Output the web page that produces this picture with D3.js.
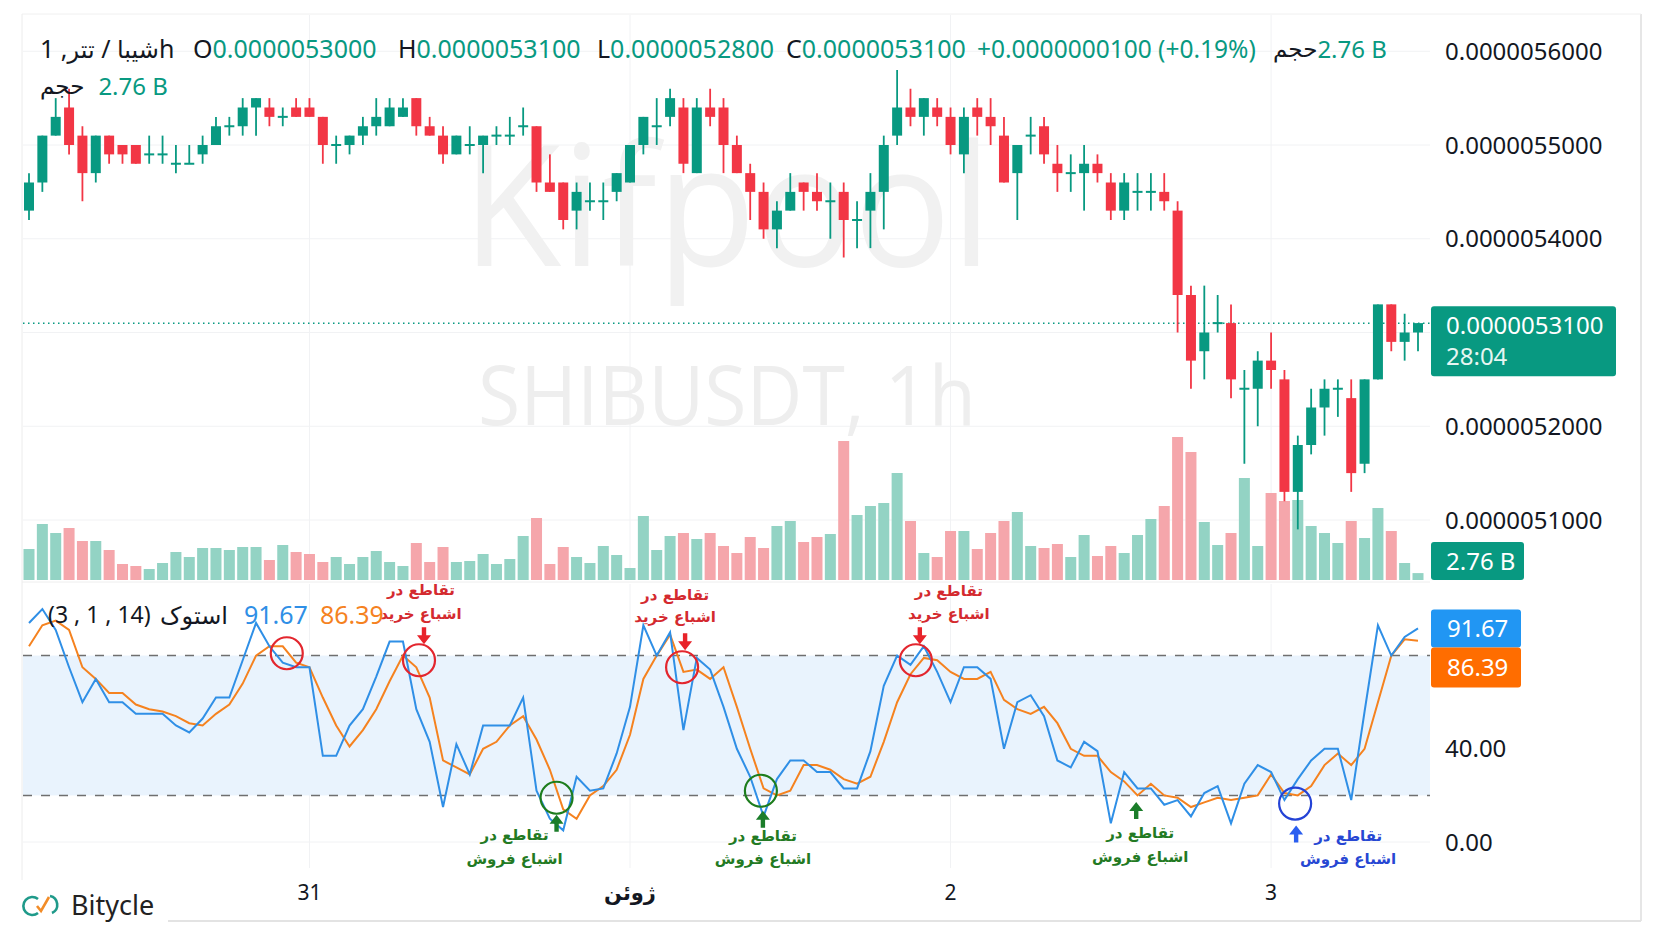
<!DOCTYPE html>
<html>
<head>
<meta charset="utf-8">
<script src="https://cdn.jsdelivr.net/npm/d3@7"></script>
<style>
  body { margin: 0; background: #fff; }
  svg { display: block; }
  text { white-space: pre; }
</style>
</head>
<body>
<svg id="chart" width="1672" height="941"></svg>
<script>
// SHIBUSDT 1h, prices in units of 1e-10 USDT
const opens = [54300,54600,55100,55400,55100,54700,55100,55000,55000,54900,
  54900,54800,54800,54900,55000,55200,55200,55400,55400,55300,
  55400,55400,55300,55000,55000,55100,55200,55200,55300,55500,
  55200,55100,54900,55000,55000,55100,55100,55200,55200,54600,
  54600,54300,54400,54400,54500,54600,55000,55200,55300,55400,
  54700,55400,55400,55000,54700,54500,54100,54300,54600,54500,
  54400,54500,54200,54300,54500,55100,55400,55300,55400,55300,
  54900,55400,55300,55100,54700,55100,55200,54800,54700,54700,
  54800,54600,54300,54500,54500,54500,54300,53400,52800,53100,
  53100,52400,52400,52700,52500,51300,51800,52200,52400,52300,
  51600,52500,53300,52900,53000];
const highs = [54700,55100,55500,55600,55200,55100,55100,55000,55000,55100,
  55100,55000,55000,55100,55300,55300,55500,55500,55500,55400,
  55500,55500,55300,55100,55100,55300,55500,55500,55500,55500,
  55300,55200,55100,55200,55100,55200,55300,55400,55200,54900,
  54600,54600,54600,54600,54700,55000,55300,55500,55600,55500,
  55500,55600,55500,55100,54800,54600,54400,54700,54600,54700,
  54600,54600,54400,54700,55100,55800,55600,55500,55500,55400,
  55400,55500,55500,55300,55000,55300,55300,55000,54900,55000,
  54900,54700,54700,54700,54700,54700,54400,53500,53500,53400,
  53300,52600,52800,53000,52600,51900,52400,52500,52500,52500,
  52500,53300,53300,53200,53100];
const lows = [54200,54500,55100,54900,54400,54600,54800,54800,54800,54800,
  54800,54700,54800,54800,55000,55100,55100,55100,55200,55200,
  55300,55300,54800,54800,54900,55000,55100,55200,55300,55100,
  55100,54800,54900,54900,54700,55000,55000,55100,54500,54500,
  54100,54100,54300,54200,54400,54600,54900,55000,55200,54700,
  54700,55200,54700,54700,54200,54000,53900,54300,54300,54300,
  54000,53800,53900,53900,54100,55000,55200,55100,55200,54900,
  54700,55100,55000,54600,54200,54900,54800,54500,54500,54300,
  54600,54200,54200,54300,54300,54300,53000,52400,52500,53000,
  52300,51600,52000,52400,51200,50900,51700,51900,52100,51300,
  51500,52500,52800,52700,52800];
const closes = [54600,55100,55300,55000,54700,55100,54900,54900,54800,54900,
  54900,54800,54800,55000,55200,55200,55400,55500,55300,55300,
  55300,55300,55000,55000,55100,55200,55300,55400,55400,55200,
  55100,54900,55100,55000,55100,55100,55100,55200,54600,54500,
  54200,54500,54400,54400,54700,55000,55300,55200,55500,54800,
  55400,55300,55000,54700,54500,54100,54300,54500,54500,54400,
  54400,54200,54200,54500,55000,55400,55300,55500,55300,55000,
  55300,55300,55200,54600,55000,55100,54900,54700,54700,54800,
  54700,54300,54600,54500,54500,54400,53400,52700,53000,53100,
  52500,52400,52700,52600,51300,51800,52200,52400,52400,51500,
  52500,53300,52900,53000,53100];
// volume in billions SHIB
const volumes = [12.4,22.4,18.8,20.8,15.6,15.6,12.0,6.4,5.6,4.4,
  6.8,11.2,9.2,12.8,12.8,12.0,13.2,13.2,8.0,14.0,
  11.2,10.4,7.2,9.2,6.4,9.2,11.6,7.2,5.6,14.8,
  7.2,13.2,7.2,7.6,10.4,6.4,8.4,17.6,24.8,6.4,
  13.2,9.2,6.8,13.6,10.0,4.8,25.6,12.0,17.6,18.8,
  16.4,18.8,13.6,10.8,17.2,12.8,21.6,23.6,15.2,17.2,
  18.4,55.6,26.0,29.6,30.8,42.8,23.6,10.8,9.2,19.6,
  19.6,12.4,18.8,23.6,27.2,13.6,12.8,14.4,9.2,18.0,
  9.6,13.6,10.8,18.0,24.4,29.6,57.2,51.2,23.2,14.0,
  18.8,40.8,13.6,34.8,31.6,32.0,21.6,18.8,14.8,23.6,
  16.8,28.8,19.6,6.8,2.76];
// Stochastic (14, 1, 3)
const stochK = [94,100,91,75,60,70,60,60,55,55,
  55,50,47,53,62,62,78,94,84,77,
  75,75,37,37,50,57,71,86,86,57,
  43,15,42,29,50,50,50,62,22,10,
  5,28,22,23,38,58,93,80,90,48,
  79,74,58,40,28,11,27,35,35,30,
  30,23,23,39,67,80,76,84,73,60,
  75,75,70,40,60,63,54,35,32,43,
  39,8,30,23,23,16,18,11,21,24,
  8,25,33,30,18,27,35,40,40,18,
  56,93,80,88,91.67];
const stochD = [84,93,95,91,75,70,64,64,59,57,
  56,54,51,50,55,59,68,80,84,84,
  77,75,62,50,41,48,57,69,80,75,
  62,35,32,29,40,43,50,54,44,31,
  14,10,20,24,31,46,70,80,89,73,
  74,70,75,58,40,23,20,22,33,33,
  31,27,25,28,43,60,72,79,78,73,
  70,70,73,61,57,55,58,51,40,37,
  37,30,26,20,25,20,19,15,17,19,
  18,19,20,29,21,20,24,33,38,33,
  40,60,80,87,86.39];

const priceTicks = [56000, 55000, 54000, 52000, 51000];
const priceGrid = [56000, 55000, 54000, 53000, 52000, 51000];
const stochTicks = [40, 0];
const dayTicks = [
  { i: 21, label: "31" },
  { i: 45, label: "ژوئن", bold: true },
  { i: 69, label: "2" },
  { i: 93, label: "3" }
];
const lastPrice = 53100;
// annotations: anchor (bar index, stoch value) + offsets in px
const notes = [
  { i: 19.3, v: 81, type: "ob", circle: true },
  { i: 29.2, v: 78, type: "ob", circle: true, arrow: [5, -16], text: [2, -71, -47] },
  { i: 48.9, v: 75, type: "ob", circle: true, arrow: [3, -17], text: [-7, -73, -51] },
  { i: 66.4, v: 78, type: "ob", circle: true, arrow: [4, -16], text: [33, -70, -47] },
  { i: 39.5, v: 19, type: "os", circle: true, arrow: [0, 17], text: [-42, 37, 61] },
  { i: 54.8, v: 22, type: "os", circle: true, arrow: [2, 20], text: [2, 45, 68] },
  { i: 82.9, v: 24, type: "os", circle: false, arrow: [0, 16], text: [4, 47, 71] },
  { i: 94.8, v: 16.5, type: "osb", circle: true, arrow: [1, 22], text: [53, 32, 55] }
];

const UP = "#089981", DOWN = "#f23645";
const UP_VOL = "#93d3c4", DOWN_VOL = "#f5a6ab";
const K_COL = "#2f8fe6", D_COL = "#f5821f";
const LAT = "'Noto Sans', Roboto, sans-serif";
const AR = "'DejaVu Sans', sans-serif";

const fmt = p => (p * 1e-10).toFixed(10);

const svg = d3.select("#chart");
const x = d3.scaleLinear().domain([0, opens.length - 1]).range([29, 1418]);
const y = d3.scaleLinear().domain([51000, 55000]).range([520, 145]);
const yv = d3.scaleLinear().domain([0, 60]).range([580, 430]);
const ys = d3.scaleLinear().domain([0, 100]).range([842, 609]);
const plotL = 23, plotR = 1430;

// text with vertical centre at cy
function label(g, tx, cy, str, size, fill, opts = {}) {
  return g.append("text")
    .attr("x", tx).attr("y", cy + size * 0.36)
    .attr("fill", fill)
    .attr("text-anchor", opts.anchor || "start")
    .style("font-family", opts.ar ? AR : LAT)
    .style("font-weight", opts.bold ? "bold" : "normal")
    .style("font-size", size + "px")
    .text(str);
}
function row(g, tx, cy, parts, size) {
  parts.forEach(p => {
    const t = label(g, tx, cy, p.t, p.ar ? size - 1 : size, p.c || "#131722", { ar: p.ar });
    tx += t.node().getComputedTextLength() + (p.gap || 0);
  });
}

// frame
const frame = svg.append("g");
frame.append("line").attr("x1", 22).attr("x2", 22).attr("y1", 14).attr("y2", 921).attr("stroke", "#ececec");
frame.append("line").attr("x1", 1641).attr("x2", 1641).attr("y1", 14).attr("y2", 921).attr("stroke", "#e6e6e6").attr("stroke-width", 2);
frame.append("line").attr("x1", 22).attr("x2", 1641).attr("y1", 14).attr("y2", 14).attr("stroke", "#f0f0f0");
frame.append("line").attr("x1", 22).attr("x2", 1641).attr("y1", 921).attr("y2", 921).attr("stroke", "#e3e3e3").attr("stroke-width", 2);
frame.append("line").attr("x1", 22).attr("x2", 1430).attr("y1", 582).attr("y2", 582).attr("stroke", "#eeeeee");

// grid
const grid = svg.append("g").attr("stroke", "#f1f2f4").attr("stroke-width", 1);
priceGrid.forEach(p => grid.append("line").attr("x1", plotL).attr("x2", plotR).attr("y1", y(p)).attr("y2", y(p)));
stochTicks.forEach(v => grid.append("line").attr("x1", plotL).attr("x2", plotR).attr("y1", ys(v)).attr("y2", ys(v)));
dayTicks.forEach(d => {
  grid.append("line").attr("x1", x(d.i)).attr("x2", x(d.i)).attr("y1", 15).attr("y2", 580);
  grid.append("line").attr("x1", x(d.i)).attr("x2", x(d.i)).attr("y1", 584).attr("y2", 868);
});

// watermarks
svg.append("text").attr("x", 462).attr("y", 266).attr("textLength", 530).attr("lengthAdjust", "spacingAndGlyphs")
  .style("font-family", "'Open Sans', sans-serif").style("font-size", "168px").attr("fill", "#f1f1f1").text("Kifpool");
svg.append("text").attr("x", 478).attr("y", 425).attr("textLength", 498).attr("lengthAdjust", "spacingAndGlyphs")
  .style("font-family", "'Open Sans', sans-serif").style("font-size", "82px").attr("fill", "#eeeeee").text("SHIBUSDT, 1h");

// volume
const bars = opens.map((o, i) => ({ i, o, h: highs[i], l: lows[i], c: closes[i], v: volumes[i], up: closes[i] >= o }));
svg.append("g").selectAll("rect").data(bars).join("rect")
  .attr("x", d => x(d.i) - 5.5).attr("width", 11)
  .attr("y", d => yv(d.v)).attr("height", d => yv(0) - yv(d.v))
  .attr("fill", d => d.up ? UP_VOL : DOWN_VOL);

// last price line
svg.append("line").attr("x1", plotL).attr("x2", plotR).attr("y1", y(lastPrice)).attr("y2", y(lastPrice))
  .attr("stroke", UP).attr("stroke-width", 1.5).attr("stroke-dasharray", "1.5,3.5");

// candles
const cg = svg.append("g").selectAll("g").data(bars).join("g");
cg.append("line").attr("x1", d => x(d.i)).attr("x2", d => x(d.i))
  .attr("y1", d => y(d.h)).attr("y2", d => y(d.l))
  .attr("stroke", d => d.up ? UP : DOWN).attr("stroke-width", 1.8);
cg.append("rect").attr("x", d => x(d.i) - 5).attr("width", 10)
  .attr("y", d => y(Math.max(d.o, d.c)) - (d.o === d.c ? 1 : 0))
  .attr("height", d => Math.max(2, Math.abs(y(d.o) - y(d.c))))
  .attr("fill", d => d.up ? UP : DOWN);

// stochastic panel
svg.append("rect").attr("x", plotL).attr("width", plotR - plotL).attr("y", ys(80)).attr("height", ys(20) - ys(80)).attr("fill", "#e9f3fd");
[80, 20].forEach(v => svg.append("line").attr("x1", plotL).attr("x2", plotR).attr("y1", ys(v)).attr("y2", ys(v))
  .attr("stroke", "#6f6f6f").attr("stroke-width", 1.5).attr("stroke-dasharray", "9,9"));
const line = d3.line().x((d, i) => x(i)).y(d => ys(d));
svg.append("path").datum(stochD).attr("d", line).attr("fill", "none").attr("stroke", D_COL).attr("stroke-width", 2);
svg.append("path").datum(stochK).attr("d", line).attr("fill", "none").attr("stroke", K_COL).attr("stroke-width", 2);

// annotations
const noteStyle = {
  ob: { ring: "#e3262e", arrow: "#e8232a", text: "#d42a2f", l2: "اشباع خرید" },
  os: { ring: "#1d7d1d", arrow: "#1b7d2a", text: "#237a23", l2: "اشباع فروش" },
  osb: { ring: "#2443d6", arrow: "#2a5ef0", text: "#2747d3", l2: "اشباع فروش" }
};
const ng = svg.append("g");
notes.forEach(n => {
  const s = noteStyle[n.type];
  const cx = x(n.i), cy = ys(n.v);
  if (n.circle) ng.append("circle").attr("cx", cx).attr("cy", cy).attr("r", 16)
    .attr("fill", "none").attr("stroke", s.ring).attr("stroke-width", 2.2);
  if (n.arrow) {
    const ax = cx + n.arrow[0], tip = cy + n.arrow[1];
    const dir = n.arrow[1] < 0 ? -1 : 1; // arrow points toward circle
    const p = d3.path();
    p.moveTo(ax, tip);
    p.lineTo(ax - 7, tip + dir * 9);
    p.lineTo(ax - 2.2, tip + dir * 9);
    p.lineTo(ax - 2.2, tip + dir * 17);
    p.lineTo(ax + 2.2, tip + dir * 17);
    p.lineTo(ax + 2.2, tip + dir * 9);
    p.lineTo(ax + 7, tip + dir * 9);
    p.closePath();
    ng.append("path").attr("d", p.toString()).attr("fill", s.arrow);
  }
  if (n.text) {
    label(ng, cx + n.text[0], cy + n.text[1], "تقاطع در", 15, s.text, { ar: true, bold: true, anchor: "middle" });
    label(ng, cx + n.text[0], cy + n.text[2], s.l2, 15, s.text, { ar: true, bold: true, anchor: "middle" });
  }
});

// legends
const lg = svg.append("g");
row(lg, 40, 49, [
  { t: "1 ," }, { t: "تتر", ar: true }, { t: " / " }, { t: "شیبا", ar: true }, { t: "h" }
], 25);
row(lg, 193, 49, [{ t: "O" }, { t: fmt(opens[opens.length - 1]), c: UP }], 25);
row(lg, 398, 49, [{ t: "H" }, { t: fmt(highs[highs.length - 1]), c: UP }], 25);
row(lg, 597, 49, [{ t: "L" }, { t: fmt(lows[lows.length - 1]), c: UP }], 25);
row(lg, 786, 49, [{ t: "C" }, { t: fmt(closes[closes.length - 1]), c: UP }], 25);
label(lg, 977, 49, "+0.0000000100 (+0.19%)", 24.5, UP);
row(lg, 1273, 49, [{ t: "حجم", ar: true }, { t: volumes[volumes.length - 1] + " B", c: UP }], 24);
row(lg, 40, 86, [{ t: "حجم", ar: true, gap: 14 }, { t: volumes[volumes.length - 1] + " B", c: UP }], 24);
label(lg, 48, 615, "(3 , 1 , 14)", 23, "#131722");
label(lg, 228, 615, "استوک", 24, "#131722", { ar: true, anchor: "end" });
label(lg, 244, 615, stochK[stochK.length - 1].toFixed(2), 25, K_COL);
label(lg, 320, 615, stochD[stochD.length - 1].toFixed(2), 25, D_COL);

// right price axis
const ax = svg.append("g");
priceTicks.forEach(p => label(ax, 1445, y(p), fmt(p), 24, "#131722"));
stochTicks.forEach(v => label(ax, 1445, ys(v), v.toFixed(2), 24, "#131722"));

// last price badge
ax.append("rect").attr("x", 1431).attr("y", y(lastPrice) - 17).attr("width", 185).attr("height", 70).attr("rx", 3).attr("fill", UP);
label(ax, 1446, y(lastPrice) + 2, fmt(lastPrice), 24, "#ffffff");
label(ax, 1446, y(lastPrice) + 33, "28:04", 24, "#e6f6f2");
// volume badge
const vb = Math.min(yv(volumes[volumes.length - 1]), 561);
ax.append("rect").attr("x", 1431).attr("y", vb - 19).attr("width", 93).attr("height", 38).attr("rx", 3).attr("fill", UP);
label(ax, 1446, vb, volumes[volumes.length - 1] + " B", 24, "#ffffff");
// stoch badges
const kb = ys(stochK[stochK.length - 1]);
ax.append("rect").attr("x", 1431).attr("y", kb - 19).attr("width", 90).attr("height", 38).attr("rx", 3).attr("fill", "#2196f3");
label(ax, 1447, kb, stochK[stochK.length - 1].toFixed(2), 24, "#ffffff");
const db = kb + 39;
ax.append("rect").attr("x", 1431).attr("y", db - 20).attr("width", 90).attr("height", 40).attr("rx", 3).attr("fill", "#ff6d00");
label(ax, 1447, db, stochD[stochD.length - 1].toFixed(2), 24, "#ffffff");

// time axis
dayTicks.forEach(d => label(ax, x(d.i), 892, d.label, 21, "#131722", { anchor: "middle", ar: !!d.bold, bold: d.bold }));

// Bitycle logo
const logo = svg.append("g");
logo.append("rect").attr("x", 0).attr("y", 880).attr("width", 168).attr("height", 61).attr("fill", "#fff");
logo.append("path").attr("d", "M38,899 A9,9 0 1 0 38,913").attr("fill", "none").attr("stroke", "#1f9a8a").attr("stroke-width", 2.6);
logo.append("path").attr("d", "M50,896 A9,9 0 0 1 52,913").attr("fill", "none").attr("stroke", "#1f9a8a").attr("stroke-width", 2.6);
logo.append("path").attr("d", "M37,906 L41,911 L49,897").attr("fill", "none").attr("stroke", "#f28c28").attr("stroke-width", 2.6);
label(logo, 71, 905, "Bitycle", 27, "#222");
</script>
</body>
</html>
